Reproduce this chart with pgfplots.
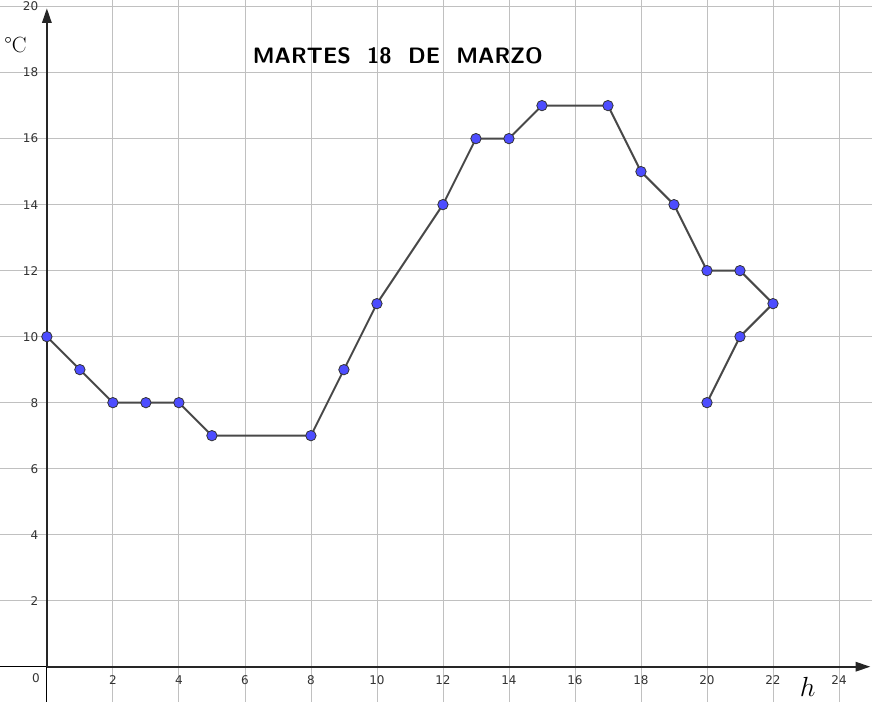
\documentclass[border=0pt]{standalone}
\usepackage{fontspec}
\usepackage{pgfplots}
\pgfplotsset{compat=1.18}
\usetikzlibrary{arrows.meta}
\newfontfamily\tickfont{DejaVu Sans}
\definecolor{ptblue}{RGB}{77,77,255}
\definecolor{linegray}{RGB}{72,72,72}
\definecolor{gridgray}{RGB}{192,192,192}
\begin{document}
\begin{tikzpicture}
\begin{axis}[
 x=24.75pt, y=24.75pt,
 xmin=-1.42, xmax=25.0, ymin=-1.06, ymax=20.2,
 axis lines=middle,
 axis line style={draw=none},
 xtick={2,4,...,24}, ytick={2,4,...,20},
 grid=major,
 grid style={color=gridgray, line width=0.6pt},
 major tick length=0pt,
 tick label style={font=\tickfont\fontsize{9}{10}\selectfont, text=black!80},
 /pgf/number format/assume math mode=true,
 xticklabel style={anchor=north, yshift=-3pt},
 yticklabel style={anchor=east, xshift=-3pt},
 clip=false,
]
\coordinate (SW) at (rel axis cs:0,0);
\coordinate (NE) at (rel axis cs:1,1);
% axes
\draw[black, line width=0.75pt] (axis cs:-1.42,0) -- (axis cs:0,0);
\draw[black, line width=0.75pt] (axis cs:0,-1.06) -- (axis cs:0,0);
\draw[black!85, line width=1.5pt, -{Triangle[length=11pt,width=7pt]}] (axis cs:0,0) -- (axis cs:24.95,0);
\draw[black!85, line width=1.5pt, -{Triangle[length=11pt,width=7pt]}] (axis cs:0,0) -- (axis cs:0,19.95);
\node[font=\tickfont\fontsize{9}{10}\selectfont, text=black!80] at (axis cs:-0.33,-0.36) {0};
\addplot[color=linegray, line width=1.5pt, mark=*, mark size=3.9pt,
  mark options={fill=ptblue, draw=black!80, line width=0.6pt}]
 coordinates {(0,10)(1,9)(2,8)(3,8)(4,8)(5,7)(8,7)(9,9)(10,11)(12,14)(13,16)(14,16)(15,17)(17,17)(18,15)(19,14)(20,12)(21,12)(22,11)(21,10)(20,8)};
\node[anchor=west, font=\sffamily\bfseries\fontsize{16.7}{20}\selectfont] at (axis cs:6.1,18.5) {MARTES\ \ 18\ \ DE\ \ MARZO};
\node[font=\fontsize{16.5}{19}\selectfont] at (axis cs:-0.95,18.85) {\textdegree C};
\node[font=\fontsize{20}{22}\selectfont] at (axis cs:23.05,-0.6) {$h$};
\end{axis}
\pgfresetboundingbox
\path[use as bounding box] (SW) rectangle (NE);
\end{tikzpicture}
\end{document}
